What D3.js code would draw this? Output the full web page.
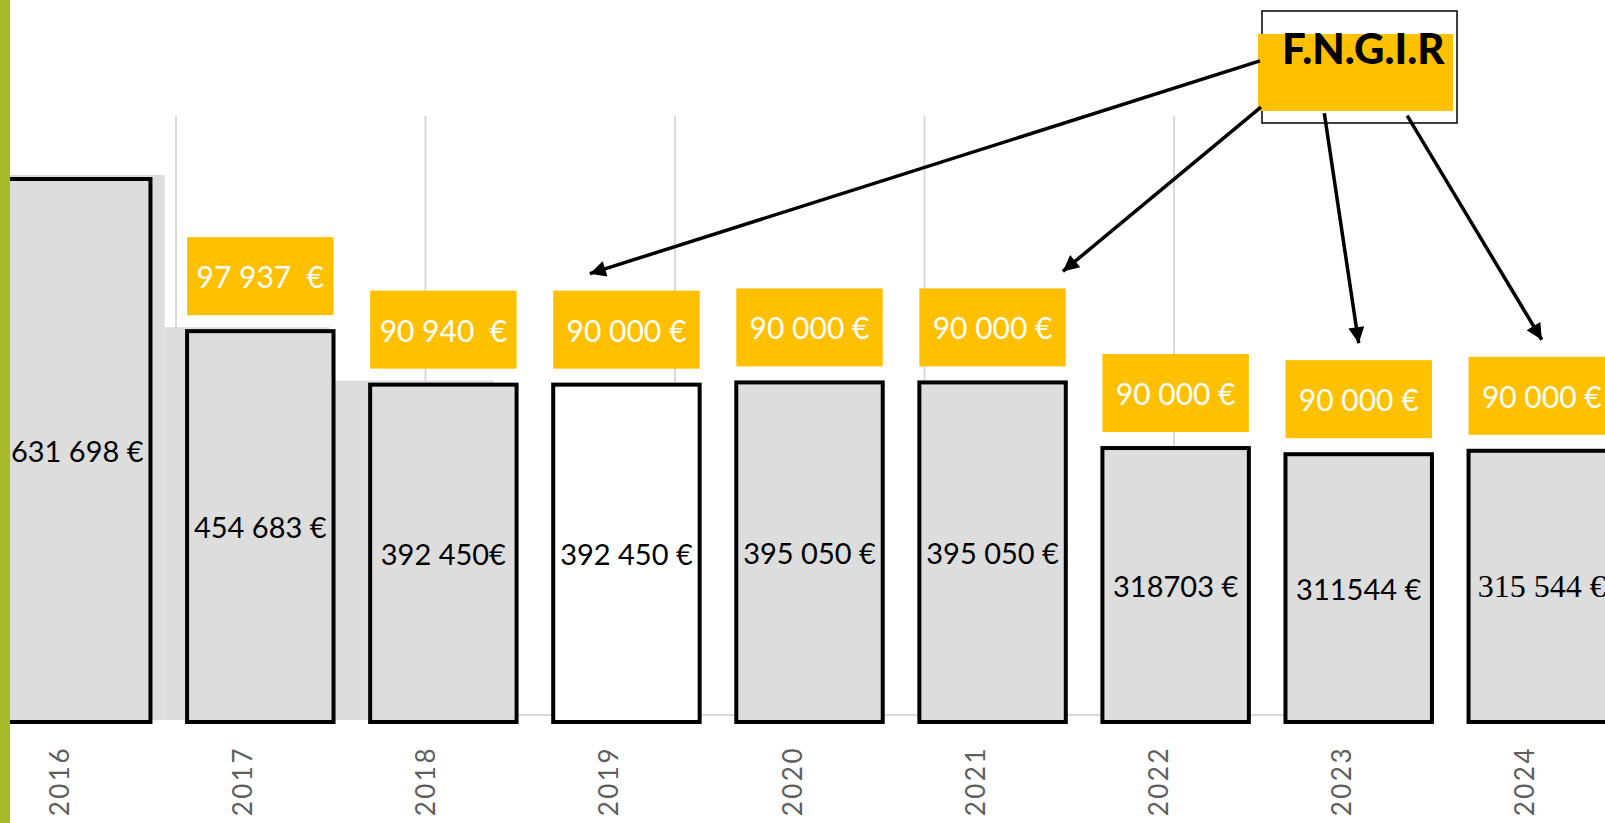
<!DOCTYPE html>
<html>
<head>
<meta charset="utf-8">
<script src="https://cdn.jsdelivr.net/npm/d3@7"></script>
<style>
  html, body { margin: 0; padding: 0; background: #fff; overflow: hidden; }
  svg { display: block; }
</style>
</head>
<body>
<svg id="chart" width="1605" height="823"></svg>
<script>
// ---- data ----
const years = ["2016", "2017", "2018", "2019", "2020", "2021", "2022", "2023", "2024"];
const totals = [631698, 454683, 392450, 392450, 395050, 395050, 318703, 311544, 315544];
const totalLabels = ["631 698 €", "454 683 €", "392 450€", "392 450 €", "395 050 €", "395 050 €", "318703 €", "311544 €", "315 544 €"];
const fngirValues = [null, 97937, 90940, 90000, 90000, 90000, 90000, 90000, 90000];
const fngirLabels = [null, "97 937  €", "90 940  €", "90 000 €", "90 000 €", "90 000 €", "90 000 €", "90 000 €", "90 000 €"];
const fngirTitle = "F.N.G.I.R";
const fngirTargets = ["2019", "2021", "2023", "2024"];
const shadowYears = ["2016", "2017", "2018"];

// ---- layout ----
const W = 1605, H = 823;
const base = 722;
const svg = d3.select("#chart");

const x = d3.scaleBand().domain(years).range([4, 1615]).paddingInner(0.2).paddingOuter(0);
const y = d3.scaleLinear().domain([0, 631698]).range([base, 179]);
const xShadow = d3.scaleBand().domain(shadowYears).range([0, 494]).padding(0);

const rows = years.map((yr, i) => ({
  year: yr, total: totals[i], label: totalLabels[i],
  fngir: fngirValues[i], fngirLabel: fngirLabels[i], i
}));

const defs = svg.append("defs");
defs.append("marker")
  .attr("id", "arrow")
  .attr("viewBox", "0 0 10 10")
  .attr("refX", 10).attr("refY", 5)
  .attr("markerUnits", "userSpaceOnUse")
  .attr("markerWidth", 22).attr("markerHeight", 16)
  .attr("orient", "auto")
  .append("path").attr("d", "M0,0 L10,5 L0,10 Z").attr("fill", "#000");

// background (underlying chart) gridlines
const gridX = d3.scaleLinear().domain([0, 4]).range([176, 1174]);
const grid = svg.append("g");
grid.selectAll("line.v").data(d3.range(5)).join("line")
  .attr("x1", d => gridX(d)).attr("x2", d => gridX(d))
  .attr("y1", 116).attr("y2", 715)
  .attr("stroke", "#D9D9D9").attr("stroke-width", 2);
grid.append("line")
  .attr("x1", gridX(0)).attr("x2", 1290).attr("y1", 715).attr("y2", 715)
  .attr("stroke", "#D9D9D9").attr("stroke-width", 2);

// shadow bars of the underlying chart
svg.append("g").selectAll("rect").data(rows.filter(d => shadowYears.includes(d.year))).join("rect")
  .attr("x", d => xShadow(d.year))
  .attr("width", xShadow.bandwidth())
  .attr("y", d => y(d.total) - 4)
  .attr("height", d => base - y(d.total) + 2)
  .attr("fill", "#DDDDDD");

// main outlined bars
svg.append("g").selectAll("rect").data(rows).join("rect")
  .attr("x", d => x(d.year))
  .attr("width", x.bandwidth())
  .attr("y", d => y(d.total))
  .attr("height", d => base - y(d.total))
  .attr("fill", d => d.year === "2019" ? "#FFFFFF" : "#DDDDDD")
  .attr("stroke", "#000").attr("stroke-width", 4);

// value labels inside bars
svg.append("g").selectAll("text").data(rows).join("text")
  .attr("x", d => x(d.year) + x.bandwidth() / 2)
  .attr("y", d => (y(d.total) + base) / 2)
  .attr("text-anchor", "middle")
  .attr("dominant-baseline", "central")
  .attr("font-family", d => d.i === years.length - 1 ? "'Liberation Serif', serif" : "Lato, 'Open Sans', sans-serif")
  .attr("font-size", d => d.i === years.length - 1 ? 32 : 29)
  .attr("fill", "#000")
  .style("white-space", "pre")
  .text(d => d.label);

// FNGIR yellow labels
const boxH = 78, gap = 16;
const fRows = rows.filter(d => d.fngir != null);
svg.append("g").selectAll("rect").data(fRows).join("rect")
  .attr("x", d => x(d.year))
  .attr("width", x.bandwidth())
  .attr("y", d => y(d.total) - gap - boxH)
  .attr("height", boxH)
  .attr("fill", "#FFC000");
svg.append("g").selectAll("text").data(fRows).join("text")
  .attr("x", d => x(d.year) + x.bandwidth() / 2)
  .attr("y", d => y(d.total) - gap - boxH / 2)
  .attr("text-anchor", "middle")
  .attr("dominant-baseline", "central")
  .attr("font-family", "Lato, 'Open Sans', sans-serif")
  .attr("font-size", 30)
  .attr("fill", "#FFFFFF")
  .style("white-space", "pre")
  .text(d => d.fngirLabel);

// year labels (rotated)
svg.append("g").selectAll("text").data(rows).join("text")
  .attr("transform", d => `translate(${x(d.year) + x.bandwidth() / 2 - 18},746) rotate(-90)`)
  .attr("text-anchor", "end")
  .attr("dominant-baseline", "central")
  .attr("font-family", "Lato, 'Open Sans', sans-serif")
  .attr("font-weight", 400)
  .attr("font-size", 26)
  .attr("letter-spacing", 2.5)
  .attr("fill", "#5F5F5F")
  .text(d => d.year);

// F.N.G.I.R callout box
const fb = { x: 1258, y: 34, w: 195, h: 77 };
svg.append("rect")
  .attr("x", fb.x + 4).attr("y", 11).attr("width", fb.w).attr("height", 112)
  .attr("fill", "#FFFFFF").attr("stroke", "#000").attr("stroke-width", 1.5);
svg.append("rect")
  .attr("x", fb.x).attr("y", fb.y).attr("width", fb.w).attr("height", fb.h)
  .attr("fill", "#FFC000");
svg.append("text")
  .attr("x", fb.x + 24).attr("y", 64)
  .attr("font-family", "Lato, 'Open Sans', sans-serif")
  .attr("font-weight", 900)
  .attr("font-size", 42)
  .attr("fill", "#000")
  .text(fngirTitle);

// arrows from the callout to the yellow labels
const arrowSpec = [
  { sx: 0.01, sy: 0.35, fx: 0.25 },
  { sx: 0.015, sy: 0.95, fx: 0.98 },
  { sx: 0.34, sy: 1.03, fx: 0.5 },
  { sx: 0.765, sy: 1.06, fx: 0.5 }
];
const arrows = fngirTargets.map((yr, k) => {
  const r = rows.find(d => d.year === yr);
  const s = arrowSpec[k];
  return {
    x1: fb.x + s.sx * fb.w, y1: fb.y + s.sy * fb.h,
    x2: x(yr) + s.fx * x.bandwidth(), y2: y(r.total) - gap - boxH - 17
  };
});
svg.append("g").selectAll("line").data(arrows).join("line")
  .attr("x1", d => d.x1).attr("y1", d => d.y1)
  .attr("x2", d => d.x2).attr("y2", d => d.y2)
  .attr("stroke", "#000").attr("stroke-width", 3.5)
  .attr("marker-end", "url(#arrow)");

// left green accent bar
svg.append("rect").attr("x", 0).attr("y", 0).attr("width", 10).attr("height", H).attr("fill", "#A8B929");
</script>
</body>
</html>
